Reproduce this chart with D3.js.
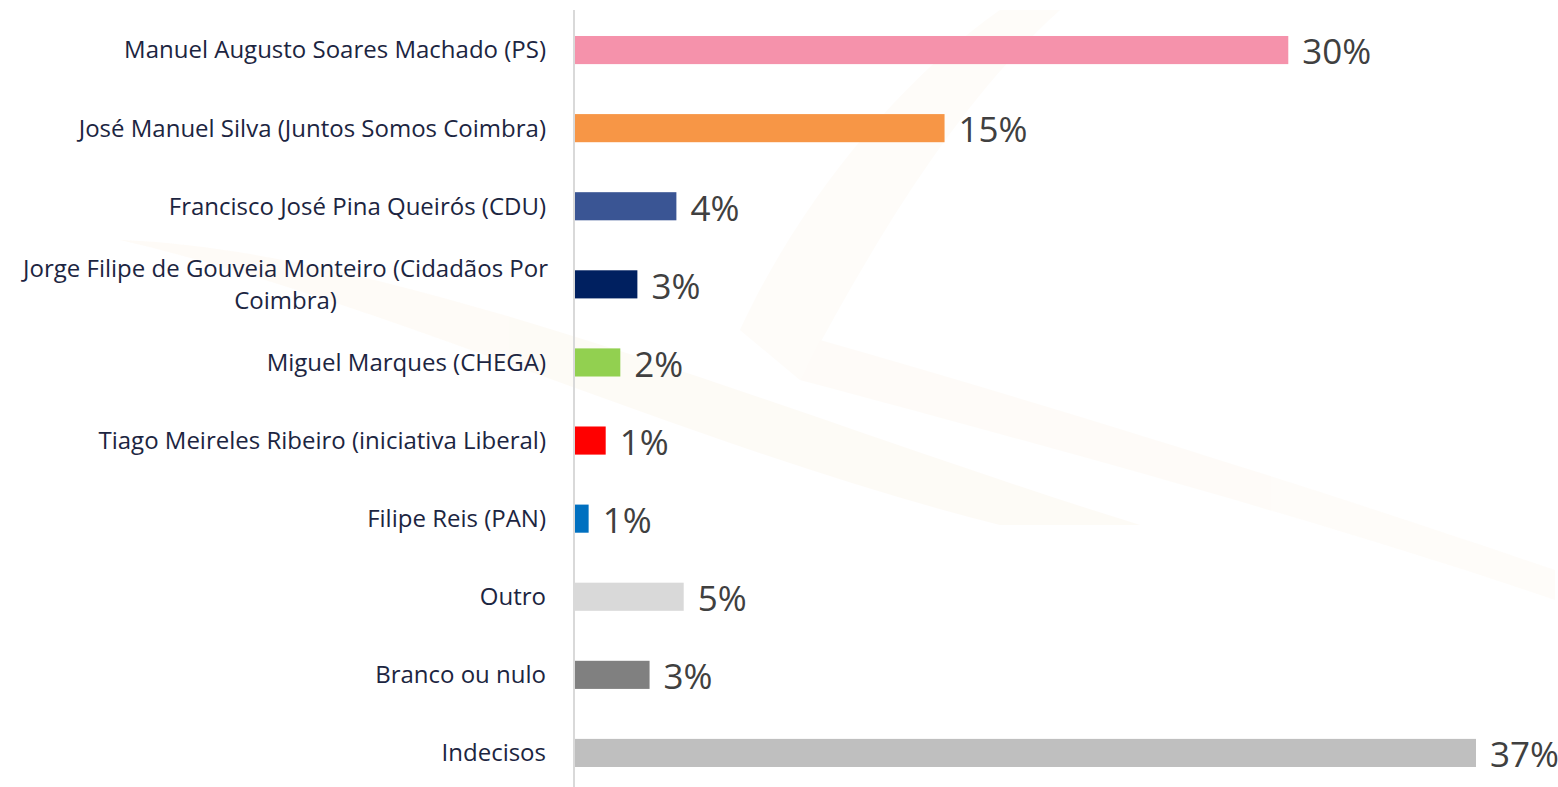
<!DOCTYPE html>
<html><head><meta charset="utf-8">
<script src="https://cdn.jsdelivr.net/npm/d3@7"></script>
<style>html,body{margin:0;padding:0;background:#fff;}svg{display:block;}</style>
</head><body>
<svg id="chart" width="1558" height="787"></svg>
<script>
const categories = [
  "Manuel Augusto Soares Machado (PS)",
  "José Manuel Silva (Juntos Somos Coimbra)",
  "Francisco José Pina Queirós (CDU)",
  "Jorge Filipe de Gouveia Monteiro (Cidadãos Por|Coimbra)",
  "Miguel Marques (CHEGA)",
  "Tiago Meireles Ribeiro (iniciativa Liberal)",
  "Filipe Reis (PAN)",
  "Outro",
  "Branco ou nulo",
  "Indecisos"
];
const values = [29.3, 15.2, 4.2, 2.6, 1.9, 1.3, 0.6, 4.5, 3.1, 37.0];
const valueLabels = ["30%", "15%", "4%", "3%", "2%", "1%", "1%", "5%", "3%", "37%"];
const colors = ["#F592AB", "#F79646", "#3A5594", "#002060", "#92D050", "#FF0000", "#0070C0", "#D9D9D9", "#808080", "#BFBFBF"];

const svg = d3.select("#chart");
const axisX = 574;

// faint watermark
const wm = svg.append("g").attr("opacity", 0.3);
wm.append("path").attr("d", "M120,240 C400,250 800,420 1140,525 L1000,525 C700,450 380,300 120,240 Z").attr("fill", "#fbf3e4");
wm.append("path").attr("d", "M740,330 C800,200 900,80 1000,10 L1060,10 C960,100 880,230 800,380 Z").attr("fill", "#fcf6ec");
wm.append("path").attr("d", "M800,380 C1100,460 1350,530 1555,600 L1555,570 C1350,500 1100,420 820,340 Z").attr("fill", "#fcf5ea");

const x = d3.scaleLinear().domain([0, 37]).range([axisX, 1476]);
const y = d3.scaleBand().domain(categories).range([11, 792]).paddingInner(0.64).paddingOuter(0.32);

svg.append("g").selectAll("rect").data(categories).join("rect")
  .attr("x", x(0))
  .attr("y", d => y(d))
  .attr("width", (d, i) => x(values[i]) - x(0))
  .attr("height", y.bandwidth())
  .attr("fill", (d, i) => colors[i]);

svg.append("line").attr("x1", axisX).attr("x2", axisX).attr("y1", 10).attr("y2", 787)
  .attr("stroke", "#d9d9d9").attr("stroke-width", 2);

const lab = svg.append("g").attr("font-family", "'Open Sans', sans-serif").attr("font-size", 24).attr("fill", "#1c2541");
categories.forEach((c, i) => {
  const cy = y(c) + y.bandwidth() / 2;
  const lines = c.split("|");
  if (lines.length === 1) {
    lab.append("text").attr("x", 546).attr("y", cy).attr("dy", "0.35em").attr("text-anchor", "end").text(c);
  } else {
    const t = lab.append("text").attr("text-anchor", "middle");
    const t1 = t.append("tspan").text(lines[0]);
    const w = t1.node().getComputedTextLength();
    const cx = 548 - w / 2;
    t1.attr("x", cx).attr("y", cy - 16).attr("dy", "0.35em");
    t.append("tspan").attr("x", cx).attr("y", cy + 16).attr("dy", "0.35em").text(lines[1]);
  }
});

svg.append("g").attr("font-family", "'Open Sans', sans-serif").attr("font-size", 35).attr("fill", "#404040")
  .selectAll("text").data(categories).join("text")
  .attr("x", (d, i) => x(values[i]) + 14)
  .attr("y", d => y(d) + y.bandwidth() / 2 + 2)
  .attr("dy", "0.35em")
  .text((d, i) => valueLabels[i]);
</script>
</body></html>
